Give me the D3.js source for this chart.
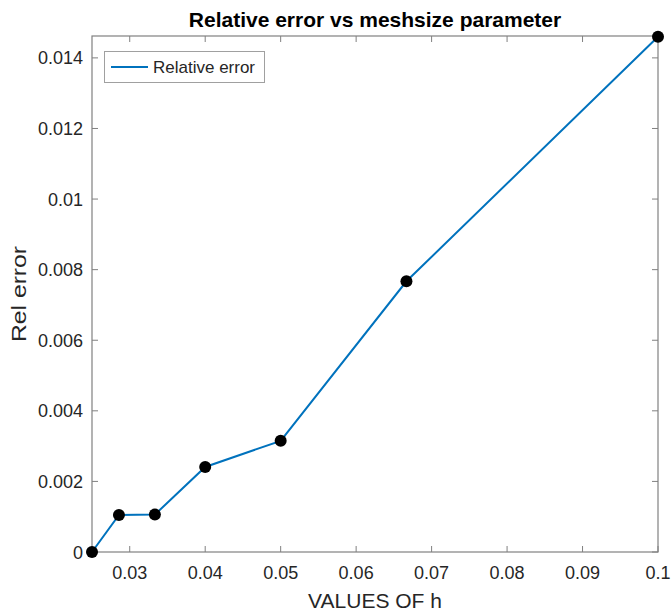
<!DOCTYPE html>
<html lang="en">
<head>
<meta charset="utf-8">
<title>Relative error vs meshsize parameter</title>
<script src="https://d3js.org/d3.v7.min.js"></script>
<style>
  body { margin: 0; background: #fff; }
  text { font-family: "Liberation Sans", Arial, sans-serif; fill: #262626; }
</style>
</head>
<body>
<script>
// data
var hValues = [1/40, 1/35, 1/30, 1/25, 1/20, 1/15, 1/10];
var relError = [0, 0.00105, 0.00106, 0.00241, 0.00315, 0.00767, 0.0146];
var xTicks = [0.03, 0.04, 0.05, 0.06, 0.07, 0.08, 0.09, 0.1];
var yTicks = [0, 0.002, 0.004, 0.006, 0.008, 0.01, 0.012, 0.014];
var seriesName = "Relative error";

var w = 671, h = 613;
var pL = 92, pR = 658, pT = 36, pB = 552;

var svg = d3.select("body").append("svg")
  .attr("width", w)
  .attr("height", h);

var xScale = d3.scaleLinear().domain([0.025, 0.1]).range([pL, pR]);
var yScale = d3.scaleLinear().domain([0, 0.01462]).range([pB, pT]);

var fmt = function(d) { return d3.format("~g")(+d.toFixed(4)); };
var tickLen = 6;
var axisCol = "#808080";

// box
svg.append("rect")
  .attr("x", pL).attr("y", pT)
  .attr("width", pR - pL).attr("height", pB - pT)
  .attr("fill", "none").attr("stroke", axisCol).attr("stroke-width", 1.2);

// x ticks (bottom and top, inward)
var xg = svg.append("g");
xTicks.forEach(function(t) {
  var x = xScale(t);
  xg.append("line").attr("x1", x).attr("x2", x).attr("y1", pB).attr("y2", pB - tickLen)
    .attr("stroke", axisCol);
  xg.append("line").attr("x1", x).attr("x2", x).attr("y1", pT).attr("y2", pT + tickLen)
    .attr("stroke", axisCol);
  xg.append("text").attr("x", x).attr("y", 579)
    .attr("text-anchor", "middle").attr("font-size", 18).text(fmt(t));
});

// y ticks (left and right, inward)
var yg = svg.append("g");
yTicks.forEach(function(t) {
  var y = yScale(t);
  yg.append("line").attr("x1", pL).attr("x2", pL + tickLen).attr("y1", y).attr("y2", y)
    .attr("stroke", axisCol);
  yg.append("line").attr("x1", pR).attr("x2", pR - tickLen).attr("y1", y).attr("y2", y)
    .attr("stroke", axisCol);
  yg.append("text").attr("x", pL - 9).attr("y", y + 6.5)
    .attr("text-anchor", "end").attr("font-size", 18).text(fmt(t));
});

// line
var pts = hValues.map(function(d, i) { return [d, relError[i]]; });
var line = d3.line()
  .x(function(d) { return xScale(d[0]); })
  .y(function(d) { return yScale(d[1]); });

svg.append("path")
  .datum(pts)
  .attr("d", line)
  .attr("fill", "none")
  .attr("stroke", "#0072BD")
  .attr("stroke-width", 2);

svg.selectAll("circle.pt")
  .data(pts)
  .enter()
  .append("circle")
  .attr("class", "pt")
  .attr("cx", function(d) { return xScale(d[0]); })
  .attr("cy", function(d) { return yScale(d[1]); })
  .attr("r", 6)
  .attr("fill", "#000");

// legend
var lg = svg.append("g");
lg.append("rect").attr("x", 104.5).attr("y", 51.5).attr("width", 160).attr("height", 31)
  .attr("fill", "#fff").attr("stroke", "#a0a0a0");
lg.append("line").attr("x1", 111).attr("x2", 148).attr("y1", 67).attr("y2", 67)
  .attr("stroke", "#0072BD").attr("stroke-width", 2);
lg.append("text").attr("x", 153).attr("y", 73).attr("font-size", 17).text(seriesName);

// title and labels
svg.append("text").attr("x", (pL + pR) / 2).attr("y", 27)
  .attr("text-anchor", "middle").attr("font-size", 21).attr("font-weight", "bold")
  .style("fill", "#000")
  .text("Relative error vs meshsize parameter");

svg.append("text").attr("x", (pL + pR) / 2).attr("y", 608)
  .attr("text-anchor", "middle").attr("font-size", 21)
  .text("VALUES OF h");

svg.append("text")
  .attr("transform", "translate(26," + ((pT + pB) / 2) + ") rotate(-90)")
  .attr("text-anchor", "middle").attr("font-size", 21)
  .attr("textLength", 96).attr("lengthAdjust", "spacingAndGlyphs")
  .text("Rel error");
</script>
</body>
</html>
